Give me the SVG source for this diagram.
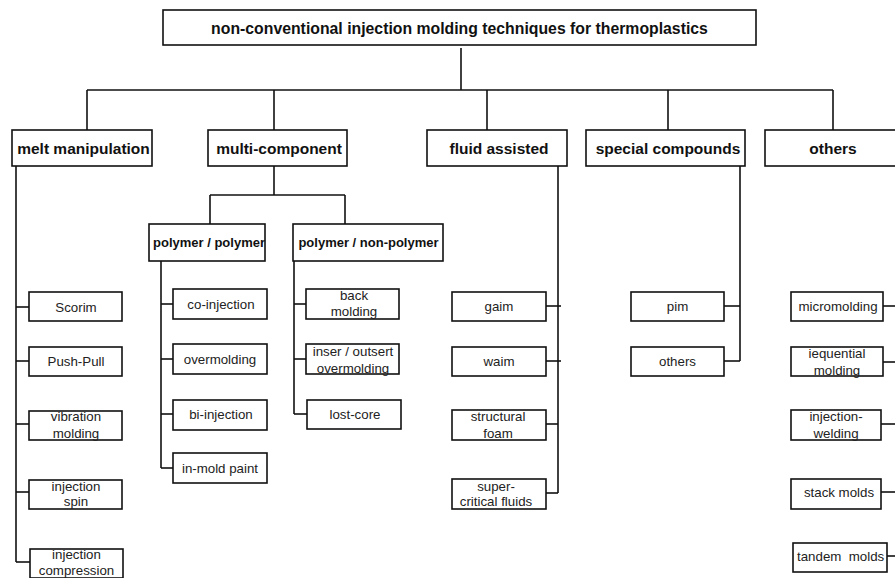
<svg xmlns="http://www.w3.org/2000/svg" width="895" height="578" viewBox="0 0 895 578">
<style>
rect{fill:#fff;stroke:#111;stroke-width:1.6}
#connectors line{stroke:#111;stroke-width:1.6;fill:none}
text{font-family:"Liberation Sans",Arial,sans-serif;text-anchor:middle}
.t0{font-size:15.8px;font-weight:bold;fill:#111}
.t1{font-size:15.5px;font-weight:bold;fill:#111}
.t2{font-size:13px;font-weight:bold;fill:#111}
.t3{font-size:13.3px;fill:#222}
</style>
<rect x="0" y="0" width="895" height="578" style="fill:#fff;stroke:none"/>
<g id="connectors">
<line x1="461" y1="48" x2="461" y2="90"/>
<line x1="87" y1="90" x2="833" y2="90"/>
<line x1="87" y1="90" x2="87" y2="130"/>
<line x1="274" y1="90" x2="274" y2="130"/>
<line x1="487" y1="90" x2="487" y2="130"/>
<line x1="668" y1="90" x2="668" y2="130"/>
<line x1="833" y1="90" x2="833" y2="130"/>
<line x1="16" y1="166" x2="16" y2="562"/>
<line x1="16" y1="307" x2="31" y2="307"/>
<line x1="16" y1="361" x2="31" y2="361"/>
<line x1="16" y1="424" x2="31" y2="424"/>
<line x1="16" y1="492" x2="31" y2="492"/>
<line x1="16" y1="562" x2="32" y2="562"/>
<line x1="274" y1="166" x2="274" y2="195"/>
<line x1="210" y1="195" x2="345" y2="195"/>
<line x1="210" y1="195" x2="210" y2="224"/>
<line x1="345" y1="195" x2="345" y2="224"/>
<line x1="161" y1="261" x2="161" y2="468"/>
<line x1="161" y1="304" x2="175" y2="304"/>
<line x1="161" y1="359" x2="175" y2="359"/>
<line x1="161" y1="414" x2="175" y2="414"/>
<line x1="161" y1="468" x2="175" y2="468"/>
<line x1="294" y1="261" x2="294" y2="414"/>
<line x1="294" y1="304" x2="308" y2="304"/>
<line x1="294" y1="359" x2="308" y2="359"/>
<line x1="294" y1="414" x2="309" y2="414"/>
<line x1="558" y1="166" x2="558" y2="493"/>
<line x1="546" y1="306" x2="561" y2="306"/>
<line x1="546" y1="361" x2="561" y2="361"/>
<line x1="543" y1="424" x2="558" y2="424"/>
<line x1="543" y1="493" x2="558" y2="493"/>
<line x1="740" y1="166" x2="740" y2="361"/>
<line x1="724" y1="306" x2="740" y2="306"/>
<line x1="724" y1="361" x2="740" y2="361"/>
<line x1="883" y1="306" x2="895" y2="306"/>
<line x1="883" y1="362" x2="895" y2="362"/>
<line x1="881" y1="424" x2="895" y2="424"/>
<line x1="881" y1="492" x2="895" y2="492"/>
<line x1="882" y1="556" x2="895" y2="556"/>
</g>
<g id="root"><rect x="163" y="10" width="593" height="35"/><text class="t0" x="459.5" y="33.5">non-conventional injection molding techniques for thermoplastics</text></g>
<g id="melt"><rect x="12" y="130" width="140" height="36"/><text class="t1" x="83.5" y="153.5">melt manipulation</text></g>
<g id="multi"><rect x="208" y="130" width="139" height="36"/><text class="t1" x="279" y="153.5">multi-component</text></g>
<g id="fluid"><rect x="427" y="130" width="140" height="36"/><text class="t1" x="499" y="153.5">fluid assisted</text></g>
<g id="special"><rect x="586" y="130" width="159" height="36"/><text class="t1" x="668" y="153.5">special compounds</text></g>
<g id="others"><rect x="765" y="130" width="140" height="36"/><text class="t1" x="833" y="153.5">others</text></g>

<g id="scorim"><rect x="29" y="292" width="93" height="29"/><text class="t3" x="76" y="311.5">Scorim</text></g>
<g id="pushpull"><rect x="29" y="347" width="93" height="29"/><text class="t3" x="76" y="366">Push-Pull</text></g>
<g id="vibration"><rect x="29" y="411" width="93" height="29"/><text class="t3" x="76" y="421">vibration</text><text class="t3" x="76" y="437.5">molding</text></g>
<g id="injspin"><rect x="29" y="480" width="93" height="29"/><text class="t3" x="76" y="490.5">injection</text><text class="t3" x="76" y="506">spin</text></g>
<g id="injcomp"><rect x="30" y="549" width="93" height="29"/><text class="t3" x="76.5" y="559">injection</text><text class="t3" x="76.5" y="574.5">compression</text></g>

<g id="pp"><rect x="149" y="224" width="116" height="37"/><text class="t2" x="153" y="247" style="text-anchor:start">polymer / polymer</text></g>
<g id="pnp"><rect x="293" y="224" width="150" height="37"/><text class="t2" x="368.5" y="247">polymer / non-polymer</text></g>

<g id="coinj"><rect x="173" y="289" width="94" height="30"/><text class="t3" x="221" y="309">co-injection</text></g>
<g id="overm"><rect x="173" y="344" width="94" height="30"/><text class="t3" x="220" y="364">overmolding</text></g>
<g id="biinj"><rect x="173" y="400" width="94" height="30"/><text class="t3" x="221" y="419">bi-injection</text></g>
<g id="inmold"><rect x="173" y="453" width="94" height="30"/><text class="t3" x="220" y="473">in-mold paint</text></g>

<g id="back"><rect x="306" y="289" width="93" height="30"/><text class="t3" x="354" y="299.5">back</text><text class="t3" x="354" y="316">molding</text></g>
<g id="inser"><rect x="306" y="344" width="93" height="30"/><text class="t3" x="353" y="356">inser / outsert</text><text class="t3" x="353" y="373">overmolding</text></g>
<g id="lostcore"><rect x="307" y="400" width="94" height="29"/><text class="t3" x="355" y="419">lost-core</text></g>

<g id="gaim"><rect x="452" y="292" width="94" height="29"/><text class="t3" x="499" y="311">gaim</text></g>
<g id="waim"><rect x="452" y="347" width="94" height="29"/><text class="t3" x="499" y="366">waim</text></g>
<g id="foam"><rect x="452" y="410" width="94" height="30"/><text class="t3" x="498" y="421">structural</text><text class="t3" x="498" y="437.5">foam</text></g>
<g id="scf"><rect x="452" y="479" width="94" height="30"/><text class="t3" x="496" y="490.5">super-</text><text class="t3" x="496" y="506">critical fluids</text></g>

<g id="pim"><rect x="631" y="292" width="93" height="29"/><text class="t3" x="677.5" y="311">pim</text></g>
<g id="others2"><rect x="631" y="347" width="93" height="29"/><text class="t3" x="677.5" y="366">others</text></g>

<g id="micro"><rect x="791" y="292" width="92" height="29"/><text class="t3" x="838" y="311">micromolding</text></g>
<g id="seq"><rect x="791" y="347" width="92" height="29"/><text class="t3" x="837" y="357.5">iequential</text><text class="t3" x="837" y="374.5">molding</text></g>
<g id="weld"><rect x="791" y="410" width="90" height="30"/><text class="t3" x="836" y="421">injection-</text><text class="t3" x="836" y="437.5">welding</text></g>
<g id="stack"><rect x="791" y="479" width="90" height="30"/><text class="t3" x="839" y="497">stack molds</text></g>
<g id="tandem"><rect x="793" y="543" width="94" height="29"/><text class="t3" x="797" y="560.5" style="text-anchor:start" xml:space="preserve">tandem  molds</text></g>
</svg>
